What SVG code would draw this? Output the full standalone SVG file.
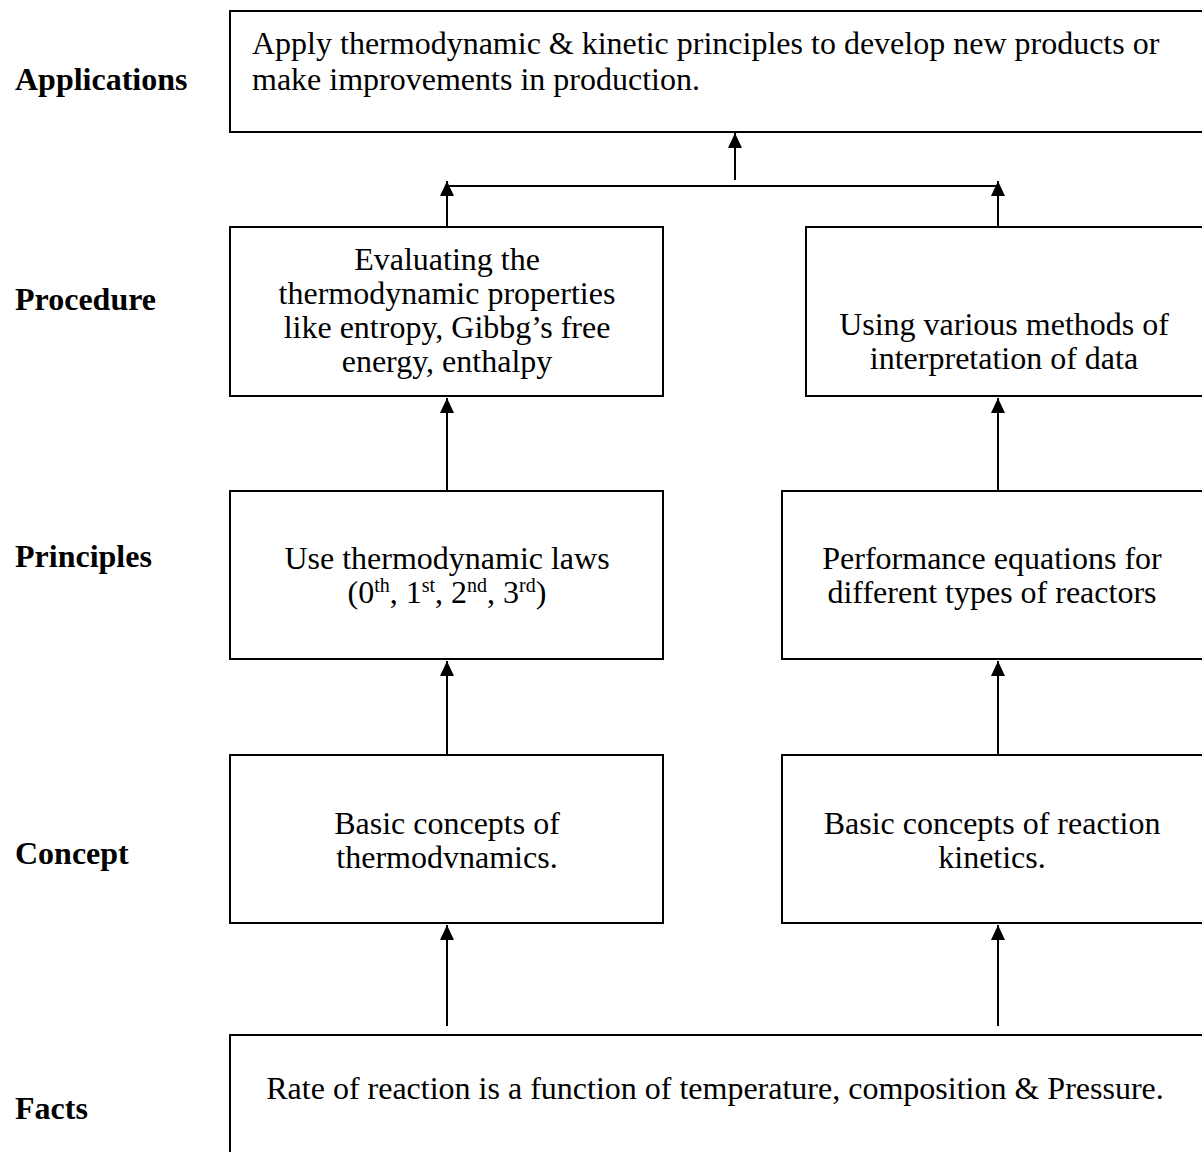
<svg xmlns="http://www.w3.org/2000/svg" width="1202" height="1152" viewBox="0 0 1202 1152">
<style>
.box{fill:#fff;stroke:#000;stroke-width:2}
.t{font-family:"Liberation Serif","Times New Roman",serif;font-size:32px;fill:#000}
.c{text-anchor:middle}
.lbl{font-family:"Liberation Serif","Times New Roman",serif;font-size:32px;font-weight:bold;fill:#000}
.ln{stroke:#000;stroke-width:2;fill:none}
.sup{font-size:20px}
</style>
<defs>
<marker id="a" viewBox="0 0 15 14" refX="15" refY="7" markerWidth="15" markerHeight="14" markerUnits="userSpaceOnUse" orient="auto">
<path d="M0,0 L15,7 L0,14 z" fill="#000"/>
</marker>
</defs>
<g id="labels">
<text class="lbl" x="15" y="90">Applications</text>
<text class="lbl" x="15" y="310">Procedure</text>
<text class="lbl" x="15" y="567">Principles</text>
<text class="lbl" x="15" y="864">Concept</text>
<text class="lbl" x="15" y="1119">Facts</text>
</g>
<g id="connectors">
<line class="ln" x1="735" y1="180" x2="735" y2="133" marker-end="url(#a)"/>
<line class="ln" x1="447" y1="186" x2="998" y2="186"/>
<line class="ln" x1="447" y1="227" x2="447" y2="181" marker-end="url(#a)"/>
<line class="ln" x1="998" y1="227" x2="998" y2="181" marker-end="url(#a)"/>
<line class="ln" x1="447" y1="491" x2="447" y2="398" marker-end="url(#a)"/>
<line class="ln" x1="998" y1="491" x2="998" y2="398" marker-end="url(#a)"/>
<line class="ln" x1="447" y1="755" x2="447" y2="661" marker-end="url(#a)"/>
<line class="ln" x1="998" y1="755" x2="998" y2="661" marker-end="url(#a)"/>
<line class="ln" x1="447" y1="1026" x2="447" y2="925" marker-end="url(#a)"/>
<line class="ln" x1="998" y1="1026" x2="998" y2="925" marker-end="url(#a)"/>
</g>
<g id="applications">
<rect class="box" x="230" y="11" width="990" height="121"/>
<text class="t" x="252" y="54">Apply thermodynamic &amp; kinetic principles to develop new products or</text>
<text class="t" x="252" y="90">make improvements in production.</text>
</g>
<g id="procedure-thermo">
<rect class="box" x="230" y="227" width="433" height="169"/>
<text class="t c" x="447" y="270">Evaluating the</text>
<text class="t c" x="447" y="304">thermodynamic properties</text>
<text class="t c" x="447" y="338">like entropy, Gibbg’s free</text>
<text class="t c" x="447" y="372">energy, enthalpy</text>
</g>
<g id="procedure-kinetics">
<rect class="box" x="806" y="227" width="420" height="169"/>
<text class="t c" x="1004" y="335">Using various methods of</text>
<text class="t c" x="1004" y="369">interpretation of data</text>
</g>
<g id="principles-thermo">
<rect class="box" x="230" y="491" width="433" height="168"/>
<text class="t c" x="447" y="569">Use thermodynamic laws</text>
<text class="t c" x="447" y="603">(0<tspan class="sup" dy="-11">th</tspan><tspan dy="11">, 1</tspan><tspan class="sup" dy="-11">st</tspan><tspan dy="11">, 2</tspan><tspan class="sup" dy="-11">nd</tspan><tspan dy="11">, 3</tspan><tspan class="sup" dy="-11">rd</tspan><tspan dy="11">)</tspan></text>
</g>
<g id="principles-kinetics">
<rect class="box" x="782" y="491" width="440" height="168"/>
<text class="t c" x="992" y="569">Performance equations for</text>
<text class="t c" x="992" y="603">different types of reactors</text>
</g>
<g id="concept-thermo">
<rect class="box" x="230" y="755" width="433" height="168"/>
<text class="t c" x="447" y="834">Basic concepts of</text>
<text class="t c" x="447" y="868">thermodvnamics.</text>
</g>
<g id="concept-kinetics">
<rect class="box" x="782" y="755" width="440" height="168"/>
<text class="t c" x="992" y="834">Basic concepts of reaction</text>
<text class="t c" x="992" y="868">kinetics.</text>
</g>
<g id="facts">
<rect class="box" x="230" y="1035" width="990" height="130"/>
<text class="t c" x="715" y="1099">Rate of reaction is a function of temperature, composition &amp; Pressure.</text>
</g>
</svg>
